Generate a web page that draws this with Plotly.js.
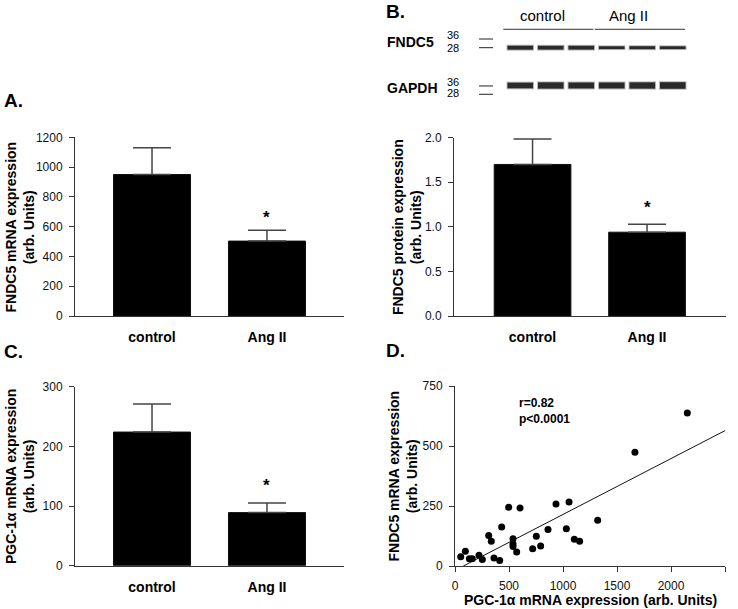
<!DOCTYPE html>
<html><head><meta charset="utf-8">
<script src="https://cdn.plot.ly/plotly-3.0.1.min.js"></script>
<style>html,body{margin:0;padding:0;background:#fff}#chart{width:738px;height:609px}</style>
</head><body><div id="chart"></div>
<script>
// ---------- data ----------
const categories = ['control', 'Ang II'];
const fndc5Mrna = [950, 503];
const fndc5MrnaSem = [179, 73];
const fndc5Protein = [1.70, 0.94];
const fndc5ProteinSem = [0.285, 0.09];
const pgc1aMrna = [224, 89];
const pgc1aMrnaSem = [47, 16];

const corrPgc1a = [53, 96, 133, 160, 222, 253, 312, 336, 361, 414, 432, 497, 537, 537, 537, 571, 602, 719, 753, 793, 861, 935, 1031, 1056, 1105, 1154, 1321, 1666, 2151];
const corrFndc5 = [39, 61, 30, 30, 45, 27, 127, 103, 33, 23, 162, 245, 114, 92, 81, 58, 242, 72, 124, 83, 152, 258, 155, 267, 111, 103, 191, 474, 637];
const fitX = [77, 2500];
const fitY = [0, 564];
const corrText = ['r=0.82', 'p<0.0001'];

const blotLanes = [1, 2, 3, 4, 5, 6];
const blotGroups = ['control', 'Ang II'];
const blotGroupLanes = [[1, 3], [4, 6]];
const blotRows = ['FNDC5', 'GAPDH'];
const fndc5Band = [1.0, 0.95, 0.95, 0.7, 0.75, 0.7];
const gapdhBand = [0.95, 1.05, 1.0, 1.0, 1.05, 1.1];
const mwMarkers = ['36', '28'];

// ---------- helpers ----------
const W = 738, H = 609;
const px = v => v / W;
const py = v => 1 - v / H;
const FONT = 'Liberation Sans, Arial, Helvetica, sans-serif';
const AXC = '#333';

const traces = [];
function barPanel(xa, ya, vals, sems) {
  traces.push({
    type: 'bar', x: [0, 1], y: vals, xaxis: xa, yaxis: ya, width: 0.67,
    marker: {color: '#000', line: {color: '#111', width: 1}},
    error_y: {type: 'data', symmetric: false, array: sems, arrayminus: sems.map(() => 0),
      color: '#444', thickness: 1.5, width: 19},
    showlegend: false, hoverinfo: 'skip'
  });
}
barPanel('x', 'y', fndc5Mrna, fndc5MrnaSem);
barPanel('x2', 'y2', fndc5Protein, fndc5ProteinSem);
barPanel('x3', 'y3', pgc1aMrna, pgc1aMrnaSem);

traces.push({type: 'scatter', mode: 'markers', x: corrPgc1a, y: corrFndc5, xaxis: 'x4', yaxis: 'y4',
  marker: {color: '#000', size: 7}, showlegend: false, hoverinfo: 'skip', cliponaxis: false});
traces.push({type: 'scatter', mode: 'lines', x: fitX, y: fitY, xaxis: 'x4', yaxis: 'y4',
  line: {color: '#111', width: 1}, showlegend: false, hoverinfo: 'skip'});

// western blot bands (soft halo + dark core)
const bandHalf = 0.42;
function bandRow(rowIdx, intens, baseW) {
  blotLanes.forEach((l, i) => {
    traces.push({type: 'scatter', mode: 'lines', x: [l - bandHalf - 0.03, l + bandHalf + 0.03], y: [rowIdx, rowIdx],
      xaxis: 'x5', yaxis: 'y5', line: {color: 'rgba(60,60,60,0.35)', width: baseW * intens[i] + 2},
      showlegend: false, hoverinfo: 'skip'});
    traces.push({type: 'scatter', mode: 'lines', x: [l - bandHalf, l + bandHalf], y: [rowIdx, rowIdx],
      xaxis: 'x5', yaxis: 'y5', line: {color: '#2a2a2a', width: baseW * intens[i]},
      showlegend: false, hoverinfo: 'skip'});
  });
}
bandRow(1, fndc5Band, 4);
bandRow(2, gapdhBand, 6);

// ---------- layout ----------
const barY = {
  showline: true, linecolor: AXC, linewidth: 1, ticks: 'outside', ticklen: 5, tickcolor: AXC,
  tickwidth: 1, showgrid: false, zeroline: false, tickfont: {family: FONT, size: 12, color: '#111'},
  ticklabelstandoff: 4, fixedrange: true
};
const barX = {
  type: 'linear', showline: true, linecolor: AXC, linewidth: 1, ticks: '', showgrid: false, zeroline: false,
  tickmode: 'array', tickvals: [0, 1], ticktext: categories.map(c => '<b>' + c + '</b>'),
  tickfont: {family: FONT, size: 14, color: '#000'}, ticklabelstandoff: 8, fixedrange: true
};
const xA = [px(75), px(344)];
const xB = [px(454), px(725.7)];
const yTop = [py(316), py(137.3)];
const yBot = [py(565.7), py(386.7)];

const layout = {
  width: W, height: H, margin: {l: 0, r: 0, t: 0, b: 0}, paper_bgcolor: '#fff', plot_bgcolor: 'rgba(0,0,0,0)',
  font: {family: FONT, color: '#000'}, showlegend: false,
  xaxis: Object.assign({}, barX, {domain: xA, range: [-0.67, 1.67], anchor: 'y'}),
  yaxis: Object.assign({}, barY, {domain: yTop, range: [0, 1200], dtick: 200, anchor: 'x'}),
  xaxis2: Object.assign({}, barX, {domain: xB, range: [-0.686, 1.687], anchor: 'y2'}),
  yaxis2: Object.assign({}, barY, {domain: [py(316), py(137.7)], range: [0, 2], dtick: 0.5, tickformat: '.1f', anchor: 'x2'}),
  xaxis3: Object.assign({}, barX, {domain: xA, range: [-0.67, 1.67], anchor: 'y3'}),
  yaxis3: Object.assign({}, barY, {domain: yBot, range: [0, 300], dtick: 100, anchor: 'x3'}),
  xaxis4: Object.assign({}, barY, {domain: [px(455), px(725)], range: [0, 2500], dtick: 500, anchor: 'y4'}),
  yaxis4: Object.assign({}, barY, {domain: [py(566), py(386)], range: [0, 750], dtick: 250, anchor: 'x4'}),
  xaxis5: {domain: [px(440), px(700)], range: [-1.631, 6.893], visible: false, anchor: 'y5', fixedrange: true},
  yaxis5: {domain: [py(100), py(5)], range: [2.384, -0.1296], visible: false, anchor: 'x5', fixedrange: true},
  shapes: [],
  annotations: []
};

const ann = layout.annotations;
// panel letters
[['A.', 3, 100, 'middle'], ['B.', 385, 0, 'top'], ['C.', 3, 351, 'middle'], ['D.', 385, 350, 'middle']].forEach(([t, x, y, ya]) => {
  ann.push({text: '<b>' + t + '</b>', xref: 'paper', yref: 'paper', x: px(x), y: py(y), xanchor: 'left', yanchor: ya,
    borderpad: 0, showarrow: false, font: {family: FONT, size: 19, color: '#000'}});
});
// y-axis titles
[['FNDC5 mRNA expression', 19.9, 226.6], ['FNDC5 protein expression', 406.3, 226.8],
 ['PGC-1α mRNA expression', 19.9, 476.2], ['FNDC5 mRNA expression', 402.5, 476]].forEach(([t, x, y]) => {
  ann.push({text: '<b>' + t + '<br>(arb. Units)</b>', xref: 'paper', yref: 'paper', x: px(x), y: py(y),
    xanchor: 'center', yanchor: 'middle', textangle: -90, showarrow: false,
    font: {family: FONT, size: 14, color: '#000'}});
});
// D x title
ann.push({text: '<b>PGC-1α mRNA expression (arb. Units)</b>', xref: 'paper', yref: 'paper', x: px(590), y: py(600),
  xanchor: 'center', yanchor: 'middle', showarrow: false, font: {family: FONT, size: 14, color: '#000'}});
// significance stars
[['x', 'y', fndc5Mrna, fndc5MrnaSem, 1], ['x2', 'y2', fndc5Protein, fndc5ProteinSem, 5], ['x3', 'y3', pgc1aMrna, pgc1aMrnaSem, 6]].forEach(([xa, ya, v, s, sh]) => {
  ann.push({text: '<b>*</b>', xref: xa, yref: ya, x: 1, y: v[1] + s[1], xanchor: 'center', yanchor: 'bottom',
    yshift: sh, showarrow: false, font: {family: FONT, size: 17, color: '#000'}});
});
// correlation text
ann.push({text: corrText.map(t => '<b>' + t.replace('<', '&lt;') + '</b>').join('<br>'), xref: 'x4', yref: 'y4', x: 574, y: 646,
  xanchor: 'left', yanchor: 'middle', align: 'left', showarrow: false, font: {family: FONT, size: 12, color: '#000'}});

// blot annotations
const groupLabelX = [0.936, 3.83];
blotGroups.forEach((g, i) => {
  ann.push({text: g, xref: 'x5', yref: 'y5', x: groupLabelX[i], y: 0.153, xanchor: 'left', yanchor: 'middle',
    showarrow: false, font: {family: FONT, size: 15, color: '#000'}});
  const [a, b] = blotGroupLanes[i];
  layout.shapes.push({type: 'line', xref: 'x5', yref: 'y5', x0: a - 0.556, x1: b + 0.4, y0: 0.513, y1: 0.513,
    line: {color: '#333', width: 1}});
});
const rowLabelY = [41.7, 88.3];
blotRows.forEach((r, i) => {
  ann.push({text: '<b>' + r + '</b>', xref: 'paper', yref: 'paper', x: px(385), y: py(rowLabelY[i]), xanchor: 'left',
    yanchor: 'middle', showarrow: false, font: {family: FONT, size: 14, color: '#000'}});
});
// molecular weight markers (y positions in blot units per row)
const mwTextY = [[0.664, 1.0], [1.915, 2.19]];
const mwDashY = [[0.770, 1.0], [2.013, 2.233]];
mwTextY.forEach((row, r) => {
  row.forEach((yv, k) => {
    ann.push({text: mwMarkers[k], xref: 'x5', yref: 'y5', x: -1.205, y: yv, xanchor: 'center', yanchor: 'middle',
      borderpad: 0, showarrow: false, font: {family: FONT, size: 11, color: 'black'}});
    layout.shapes.push({type: 'line', xref: 'x5', yref: 'y5', x0: -0.352, x1: 0.107, y0: mwDashY[r][k], y1: mwDashY[r][k],
      line: {color: '#222', width: 1}});
  });
});

Plotly.newPlot('chart', traces, layout, {displayModeBar: false, staticPlot: true});
</script>
</body></html>
